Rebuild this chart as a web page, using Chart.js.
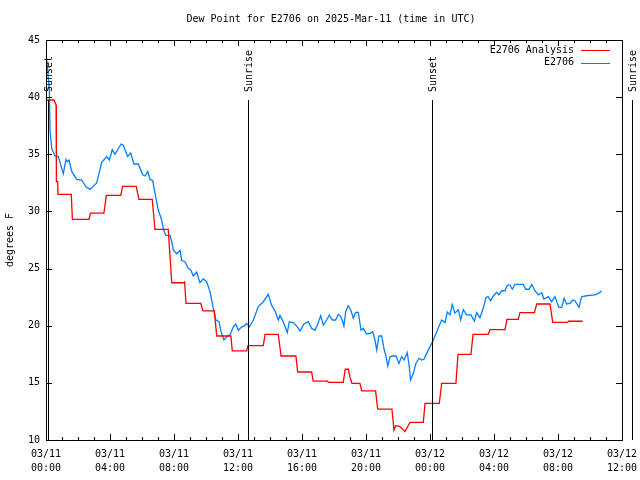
<!DOCTYPE html>
<html lang="en">
<head>
    <meta charset="UTF-8">
    <title>Dew Point for E2706</title>
    <script src="https://cdn.jsdelivr.net/npm/chart.js"></script>
    <style>
        body { margin: 0; background: #fff; }
        #chart { display: block; }
    </style>
</head>
<body>
    <canvas id="chart" width="640" height="480"></canvas>

    <script>
        // Hours since 03/11 00:00 UTC
        var analysisHours = [0.04, 0.5, 0.63, 0.65, 0.73, 0.75, 1.58, 1.65, 2.69, 2.78, 3.62, 3.77, 4.67, 4.79, 5.64, 5.81,
            6.64, 6.81, 7.64, 7.86, 8.64, 8.66, 8.75, 9.67, 9.81, 10.52, 10.67, 11.56, 11.64, 12.54, 12.62, 13.58, 13.69,
            14.52, 14.69, 15.62, 15.73, 16.6, 16.7, 17.6, 17.65, 18.58, 18.7, 18.9, 19.0, 19.12, 19.62, 19.73, 20.6, 20.73,
            21.62, 21.75, 21.85, 22.1, 22.44, 22.75, 23.58, 23.69, 24.58, 24.73, 25.62, 25.75, 26.56, 26.69, 27.64, 27.75,
            28.69, 28.81, 29.52, 29.62, 30.52, 30.67, 31.5, 31.67, 32.6, 32.65, 33.54];
        var analysisValues = [39.75, 39.75, 39.3, 32.6, 32.6, 31.5, 31.5, 29.3, 29.3, 29.86, 29.86, 31.4, 31.4, 32.2, 32.2, 31.06,
            31.06, 28.43, 28.43, 23.76, 23.76, 23.9, 21.96, 21.96, 21.29, 21.29, 19.1, 19.1, 17.79, 17.79, 18.25, 18.25, 19.25,
            19.25, 17.35, 17.35, 15.95, 15.95, 15.16, 15.16, 15.04, 15.04, 16.19, 16.19, 15.5, 14.96, 14.96, 14.29, 14.29, 12.71,
            12.71, 10.88, 11.25, 11.2, 10.73, 11.55, 11.55, 13.2, 13.2, 14.96, 14.96, 17.5, 17.5, 19.25, 19.25, 19.65,
            19.65, 20.56, 20.56, 21.14, 21.14, 21.9, 21.9, 20.3, 20.3, 20.39, 20.39];

        var obsHours = [0.04, 0.21, 0.25, 0.36, 0.56, 0.77, 1.08, 1.25, 1.33, 1.44, 1.61, 1.92, 2.23, 2.5, 2.75, 3.17, 3.48,
            3.79, 3.96, 4.14, 4.31, 4.69, 4.83, 5.1, 5.29, 5.5, 5.77, 6.04, 6.19, 6.36, 6.5, 6.67, 6.81, 7.02, 7.23, 7.33,
            7.48, 7.75, 7.86, 7.96, 8.17, 8.38, 8.48, 8.69, 8.9, 9.04, 9.21, 9.42, 9.62, 9.83, 10.04, 10.25, 10.46, 10.62,
            10.81, 10.94, 11.12, 11.33, 11.5, 11.71, 11.86, 12.02, 12.23, 12.39, 12.54, 12.71, 12.96, 13.27, 13.58, 13.89,
            14.1, 14.31, 14.52, 14.62, 14.83, 15.08, 15.21, 15.46, 15.67, 15.88, 16.12, 16.39, 16.6, 16.81, 16.96, 17.17,
            17.33, 17.54, 17.71, 17.89, 18.1, 18.27, 18.42, 18.54, 18.62, 18.73, 18.89, 19.04, 19.21, 19.36, 19.52, 19.69,
            19.83, 20.04, 20.25, 20.42, 20.56, 20.67, 20.81, 20.98, 21.14, 21.25, 21.36, 21.5, 21.71, 21.88, 22.06, 22.23,
            22.38, 22.58, 22.69, 22.79, 22.96, 23.12, 23.31, 23.48, 23.62, 23.79, 24.0, 24.21, 24.52, 24.73, 24.94, 25.08,
            25.25, 25.39, 25.56, 25.77, 25.92, 26.08, 26.29, 26.56, 26.77, 26.92, 27.12, 27.33, 27.5, 27.64, 27.79, 27.96,
            28.17, 28.31, 28.48, 28.69, 28.83, 29.0, 29.14, 29.31, 29.83, 29.98, 30.19, 30.36, 30.56, 30.77, 30.98, 31.12,
            31.39, 31.6, 31.81, 32.06, 32.23, 32.38, 32.54, 32.75, 32.92, 33.06, 33.31, 33.48, 33.69, 33.96, 34.31, 34.52,
            34.73];
        var obsValues = [43.4, 40.6, 37.1, 35.5, 34.85, 34.8, 33.3, 34.56, 34.35, 34.5, 33.5, 32.8, 32.75, 32.16, 31.93, 32.5, 34.3,
            34.8, 34.5, 35.4, 35.0, 35.9, 35.8, 34.8, 35.1, 34.15, 34.15, 33.2, 33.1, 33.5, 32.8, 32.7, 31.6, 30.1, 29.25, 28.5,
            27.9, 27.9, 27.35, 26.6, 26.3, 26.6, 25.7, 25.6, 25.0, 24.9, 24.35, 24.7, 23.76, 24.1, 23.85, 22.98, 21.5, 20.5,
            20.35, 19.48, 18.75, 19.1, 19.19, 19.9, 20.15, 19.6, 19.9, 19.97, 20.2, 19.9, 20.5, 21.67, 22.1, 22.75,
            21.8, 21.3, 20.5, 20.9, 20.35, 19.4, 20.35, 20.27, 19.97, 19.54, 20.15, 20.35, 19.77, 19.6, 20.06, 20.88,
            20.06, 20.5, 20.94, 20.5, 20.5, 21.0, 20.8, 20.35, 19.97, 21.2, 21.75, 21.4, 20.65, 21.17, 21.17, 19.6,
            19.77, 19.27, 19.33, 19.48, 18.75, 17.87, 19.1, 19.1, 17.87, 17.35, 16.47, 17.3, 17.35, 17.35, 16.7, 17.3,
            17.0, 17.64, 16.56, 15.25, 15.83, 16.7, 17.15, 17.0, 17.06, 17.58, 18.17, 18.75, 19.83, 20.5, 20.27, 21.2,
            20.97, 21.85, 21.1, 21.4, 20.5, 21.4, 20.94, 20.94, 20.4, 21.14, 20.7, 21.52, 22.48, 22.54, 22.19, 22.6,
            22.92, 22.69, 23.06, 23.06, 23.56, 23.56, 23.19, 23.62, 23.62, 23.19, 23.19, 23.62, 23.06, 22.69, 22.89, 22.34,
            22.54, 22.1, 22.54, 21.6, 21.6, 22.4, 21.9, 21.96, 22.25, 22.19, 21.6, 22.54, 22.6, 22.66, 22.69, 22.83,
            23.04];

        // Sun events (hours since 03/11 00:00 UTC)
        var sunHours = [0.12, 12.64, 24.14, 36.6];
        var sunLabels = ['Sunset', 'Sunrise', 'Sunset', 'Sunrise'];

        var xTickLabels = [['03/11', '00:00'], ['03/11', '04:00'], ['03/11', '08:00'], ['03/11', '12:00'], ['03/11', '16:00'],
            ['03/11', '20:00'], ['03/12', '00:00'], ['03/12', '04:00'], ['03/12', '08:00'], ['03/12', '12:00']];

        var FONT = 'DejaVu Sans Mono';

        function toPoints(xs, ys) {
            return xs.map(function (h, i) { return {x: h, y: ys[i]}; });
        }

        // frame, inward ticks, sun lines, legend and title
        var decorPlugin = {
            id: 'decor',
            afterDatasetsDraw: function (chart) {
                var ctx = chart.ctx, a = chart.chartArea;
                var xs = chart.scales.x, ys = chart.scales.y;
                ctx.save();
                ctx.strokeStyle = '#000';
                ctx.lineWidth = 1;

                // frame
                ctx.strokeRect(Math.round(a.left) + 0.5, Math.round(a.top) + 0.5,
                    Math.round(a.right - a.left), Math.round(a.bottom - a.top));

                // x ticks (major every 4h, minor every 1h), bottom and top
                ctx.beginPath();
                for (var h = 0; h <= 36; h++) {
                    var px = Math.round(xs.getPixelForValue(h)) + 0.5;
                    var len = (h % 4 === 0) ? 6 : 3;
                    ctx.moveTo(px, a.bottom); ctx.lineTo(px, a.bottom - len);
                    ctx.moveTo(px, a.top); ctx.lineTo(px, a.top + len);
                }
                // y ticks, left and right
                for (var v = 10; v <= 45; v += 5) {
                    var py = Math.round(ys.getPixelForValue(v)) + 0.5;
                    ctx.moveTo(a.left, py); ctx.lineTo(a.left + 6, py);
                    ctx.moveTo(a.right, py); ctx.lineTo(a.right - 6, py);
                }
                ctx.stroke();

                // sunrise / sunset markers
                ctx.font = '10px "' + FONT + '"';
                ctx.fillStyle = '#000';
                sunHours.forEach(function (t, i) {
                    var sx = Math.round(xs.getPixelForValue(t)) + 0.5;
                    ctx.beginPath();
                    ctx.moveTo(sx, 100);
                    ctx.lineTo(sx, a.bottom);
                    ctx.stroke();
                    ctx.save();
                    ctx.translate(sx + 1, 92);
                    ctx.rotate(-Math.PI / 2);
                    ctx.textAlign = 'left';
                    ctx.textBaseline = 'middle';
                    ctx.fillText(sunLabels[i], 0, 0);
                    ctx.restore();
                });

                // legend
                ctx.textAlign = 'right';
                ctx.textBaseline = 'middle';
                chart.data.datasets.forEach(function (ds, i) {
                    var ly = 50 + i * 12.5;
                    ctx.fillStyle = '#000';
                    ctx.fillText(ds.label, 574, ly);
                    ctx.strokeStyle = ds.borderColor;
                    ctx.beginPath();
                    ctx.moveTo(581, Math.round(ly) + 0.5);
                    ctx.lineTo(610, Math.round(ly) + 0.5);
                    ctx.stroke();
                });

                // title
                ctx.fillStyle = '#000';
                ctx.textAlign = 'center';
                ctx.fillText('Dew Point for E2706 on 2025-Mar-11 (time in UTC)', 331, 19);
                ctx.restore();
            }
        };

        var ctx = document.getElementById('chart').getContext('2d');
        var chart = new Chart(ctx, {
            type: 'line',
            data: {
                datasets: [{
                    label: 'E2706 Analysis',
                    data: toPoints(analysisHours, analysisValues),
                    borderColor: '#ff0000',
                    borderWidth: 1.3,
                    pointRadius: 0,
                    tension: 0
                }, {
                    label: 'E2706',
                    data: toPoints(obsHours, obsValues),
                    borderColor: '#0080ff',
                    borderWidth: 1.3,
                    pointRadius: 0,
                    tension: 0
                }]
            },
            options: {
                responsive: false,
                animation: false,
                layout: { padding: { top: 40, right: 18, left: 0, bottom: 0 } },
                plugins: {
                    legend: { display: false },
                    tooltip: { enabled: false }
                },
                scales: {
                    x: {
                        type: 'linear',
                        min: 0,
                        max: 36,
                        grid: { display: false, drawTicks: false },
                        border: { display: false },
                        ticks: {
                            stepSize: 4,
                            autoSkip: false,
                            maxRotation: 0,
                            padding: 7,
                            color: '#000',
                            font: { family: FONT, size: 10, lineHeight: 1.4 },
                            callback: function (value, index) { return xTickLabels[index]; }
                        },
                        afterFit: function (scale) {
                            scale.height = 40;
                            scale.paddingLeft = 0;
                            scale.paddingRight = 0;
                        }
                    },
                    y: {
                        min: 10,
                        max: 45,
                        grid: { display: false, drawTicks: false },
                        border: { display: false },
                        title: {
                            display: true,
                            text: 'degrees F',
                            color: '#000',
                            font: { family: FONT, size: 10 },
                            padding: { top: 4, bottom: 0 }
                        },
                        ticks: {
                            stepSize: 5,
                            padding: 6,
                            color: '#000',
                            font: { family: FONT, size: 10 }
                        },
                        afterFit: function (scale) {
                            scale.width = 46;
                            scale.paddingTop = 0;
                            scale.paddingBottom = 0;
                        }
                    }
                }
            },
            plugins: [decorPlugin]
        });
    </script>
</body>
</html>
